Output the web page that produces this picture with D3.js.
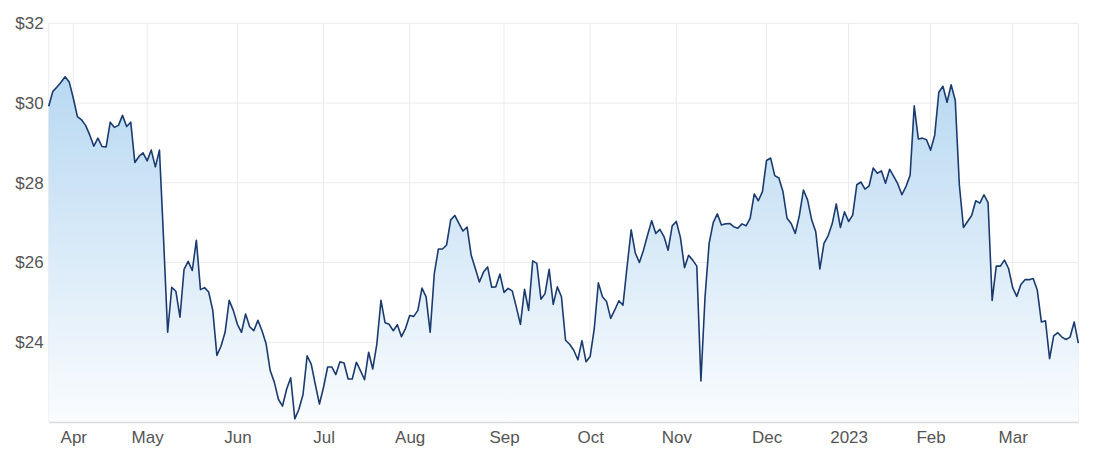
<!DOCTYPE html>
<html>
<head>
<meta charset="utf-8">
<script src="https://cdn.jsdelivr.net/npm/d3@7"></script>
<style>
  html, body { margin: 0; padding: 0; background: #fff; }
  svg { display: block; }
  text { font-family: "Liberation Sans", Arial, sans-serif; }
</style>
</head>
<body>
<svg id="chart" width="1101" height="460"></svg>
<script>
// ---- data ----
const startDate = "2022-03-24";
const holidays = ["2022-04-15", "2022-04-18", "2022-04-25", "2022-06-13", "2022-09-22",
                  "2022-12-26", "2022-12-27", "2023-01-02", "2023-01-26"];
const prices = [
  29.92, 30.29, 30.40, 30.52, 30.66, 30.53, 30.12, 29.66, 29.58, 29.44,
  29.20, 28.92, 29.12, 28.91, 28.90, 29.52, 29.39, 29.44, 29.69, 29.41,
  29.52, 28.51, 28.66, 28.75, 28.55, 28.82, 28.40, 28.82, 26.60, 24.25,
  25.38, 25.28, 24.63, 25.83, 26.03, 25.80, 26.56, 25.32, 25.37, 25.26,
  24.80, 23.67, 23.90, 24.25, 25.05, 24.80, 24.45, 24.25, 24.71, 24.39,
  24.29, 24.55, 24.29, 23.96, 23.29, 23.00, 22.57, 22.40, 22.82, 23.11,
  22.08, 22.32, 22.69, 23.66, 23.45, 22.94, 22.45, 22.87, 23.38, 23.38,
  23.19, 23.51, 23.48, 23.08, 23.08, 23.50, 23.29, 23.06, 23.75, 23.33,
  23.96, 25.05, 24.49, 24.45, 24.29, 24.44, 24.14, 24.35, 24.67, 24.65,
  24.80, 25.36, 25.14, 24.25, 25.72, 26.34, 26.34, 26.44, 27.07, 27.18,
  26.98, 26.79, 26.89, 26.18, 25.85, 25.51, 25.76, 25.89, 25.38, 25.39,
  25.71, 25.25, 25.35, 25.29, 24.88, 24.45, 25.33, 24.80, 26.04, 25.98,
  25.08, 25.22, 25.83, 24.95, 25.39, 25.14, 24.05, 23.95, 23.80, 23.56,
  24.04, 23.51, 23.64, 24.34, 25.49, 25.14, 25.02, 24.60, 24.81, 25.04,
  24.93, 25.90, 26.82, 26.24, 26.00, 26.31, 26.69, 27.05, 26.73, 26.83,
  26.65, 26.31, 26.92, 27.03, 26.63, 25.87, 26.18, 26.06, 25.91, 23.03,
  25.13, 26.48, 27.00, 27.22, 26.94, 26.97, 26.98, 26.90, 26.86, 26.97,
  26.92, 27.11, 27.72, 27.55, 27.78, 28.56, 28.62, 28.18, 28.12, 27.78,
  27.11, 26.98, 26.73, 27.18, 27.82, 27.57, 27.07, 26.77, 25.84, 26.48,
  26.67, 26.97, 27.47, 26.88, 27.27, 27.03, 27.19, 27.95, 28.02, 27.84,
  27.92, 28.37, 28.24, 28.30, 27.99, 28.34, 28.16, 27.97, 27.70, 27.91,
  28.19, 29.93, 29.10, 29.12, 29.08, 28.82, 29.20, 30.27, 30.42, 30.02,
  30.46, 30.07, 27.95, 26.88, 27.03, 27.18, 27.55, 27.49, 27.70, 27.50,
  25.05, 25.91, 25.91, 26.06, 25.85, 25.37, 25.15, 25.45, 25.57, 25.57,
  25.60, 25.31, 24.51, 24.54, 23.59, 24.16, 24.24, 24.13, 24.07, 24.13,
  24.51, 23.98
];
const yTicks = [24, 26, 28, 30, 32];
const yDomain = [22, 32];

// trading-day calendar (weekdays minus exchange holidays)
const fmtISO = d3.timeFormat("%Y-%m-%d");
const parseISO = d3.timeParse("%Y-%m-%d");
const dates = [];
{
  let d = parseISO(startDate);
  while (dates.length < prices.length) {
    const wd = d.getDay();
    if (wd !== 0 && wd !== 6 && !holidays.includes(fmtISO(d))) dates.push(fmtISO(d));
    d = d3.timeDay.offset(d, 1);
  }
}
const data = dates.map((d, i) => ({ date: d, value: prices[i] }));
const monthStarts = dates.filter((d, i) => i > 0 && d.slice(0, 7) !== dates[i - 1].slice(0, 7));
const monthLabel = s => { const d = parseISO(s); return d.getMonth() === 0 ? d3.timeFormat("%Y")(d) : d3.timeFormat("%b")(d); };

// ---- layout ----
const svg = d3.select("#chart");
const plotL = 48.7, plotR = 1078.3, plotT = 23.3, plotB = 422;

const x = d3.scalePoint().domain(dates).range([plotL, plotR]);
const y = d3.scaleLinear().domain(yDomain).range([plotB, plotT]);

const defs = svg.append("defs");
const grad = defs.append("linearGradient").attr("id", "fillGrad")
  .attr("gradientUnits", "userSpaceOnUse").attr("x1", 0).attr("x2", 0).attr("y1", plotT).attr("y2", plotB);
grad.append("stop").attr("offset", "0%").attr("stop-color", "#aed3f0");
grad.append("stop").attr("offset", "100%").attr("stop-color", "#fafcfe");

// grid
const grid = svg.append("g");
grid.selectAll("line.h").data(yTicks).join("line").attr("class", "h")
  .attr("x1", plotL).attr("x2", plotR)
  .attr("y1", d => y(d)).attr("y2", d => y(d))
  .attr("stroke", "#ebebeb").attr("stroke-width", 1);
grid.selectAll("line.v").data(monthStarts).join("line").attr("class", "v")
  .attr("x1", d => x(d)).attr("x2", d => x(d))
  .attr("y1", plotT).attr("y2", plotB)
  .attr("stroke", "#ebebeb").attr("stroke-width", 1);
grid.append("line").attr("x1", plotL).attr("x2", plotL).attr("y1", plotT).attr("y2", plotB).attr("stroke", "#ebebeb");
grid.append("line").attr("x1", plotR).attr("x2", plotR).attr("y1", plotT).attr("y2", plotB).attr("stroke", "#ebebeb");

// area + line
const area = d3.area().x(d => x(d.date)).y0(plotB).y1(d => y(d.value));
const line = d3.line().x(d => x(d.date)).y(d => y(d.value));
svg.append("path").datum(data).attr("d", area).attr("fill", "url(#fillGrad)");
svg.append("path").datum(data).attr("d", line)
  .attr("fill", "none").attr("stroke", "#1b3b6f").attr("stroke-width", 1.6).attr("stroke-linejoin", "round");

// x axis
const xAxis = d3.axisBottom(x).tickValues(monthStarts).tickFormat(monthLabel).tickSize(0).tickPadding(9);
const gx = svg.append("g").attr("transform", `translate(0,${plotB})`).call(xAxis);
gx.select(".domain").attr("stroke", "#d9d9d9").attr("stroke-width", 1.5);
gx.selectAll("text").attr("fill", "#555").attr("font-size", 17)
  .attr("font-family", "'Liberation Sans', Arial, sans-serif");

// y axis
const yAxis = d3.axisLeft(y).tickValues(yTicks).tickFormat(d => "$" + d).tickSize(0).tickPadding(5);
const gy = svg.append("g").attr("transform", `translate(${plotL},0)`).call(yAxis);
gy.select(".domain").remove();
gy.selectAll("text").attr("fill", "#555").attr("font-size", 17)
  .attr("font-family", "'Liberation Sans', Arial, sans-serif");
</script>
</body>
</html>
